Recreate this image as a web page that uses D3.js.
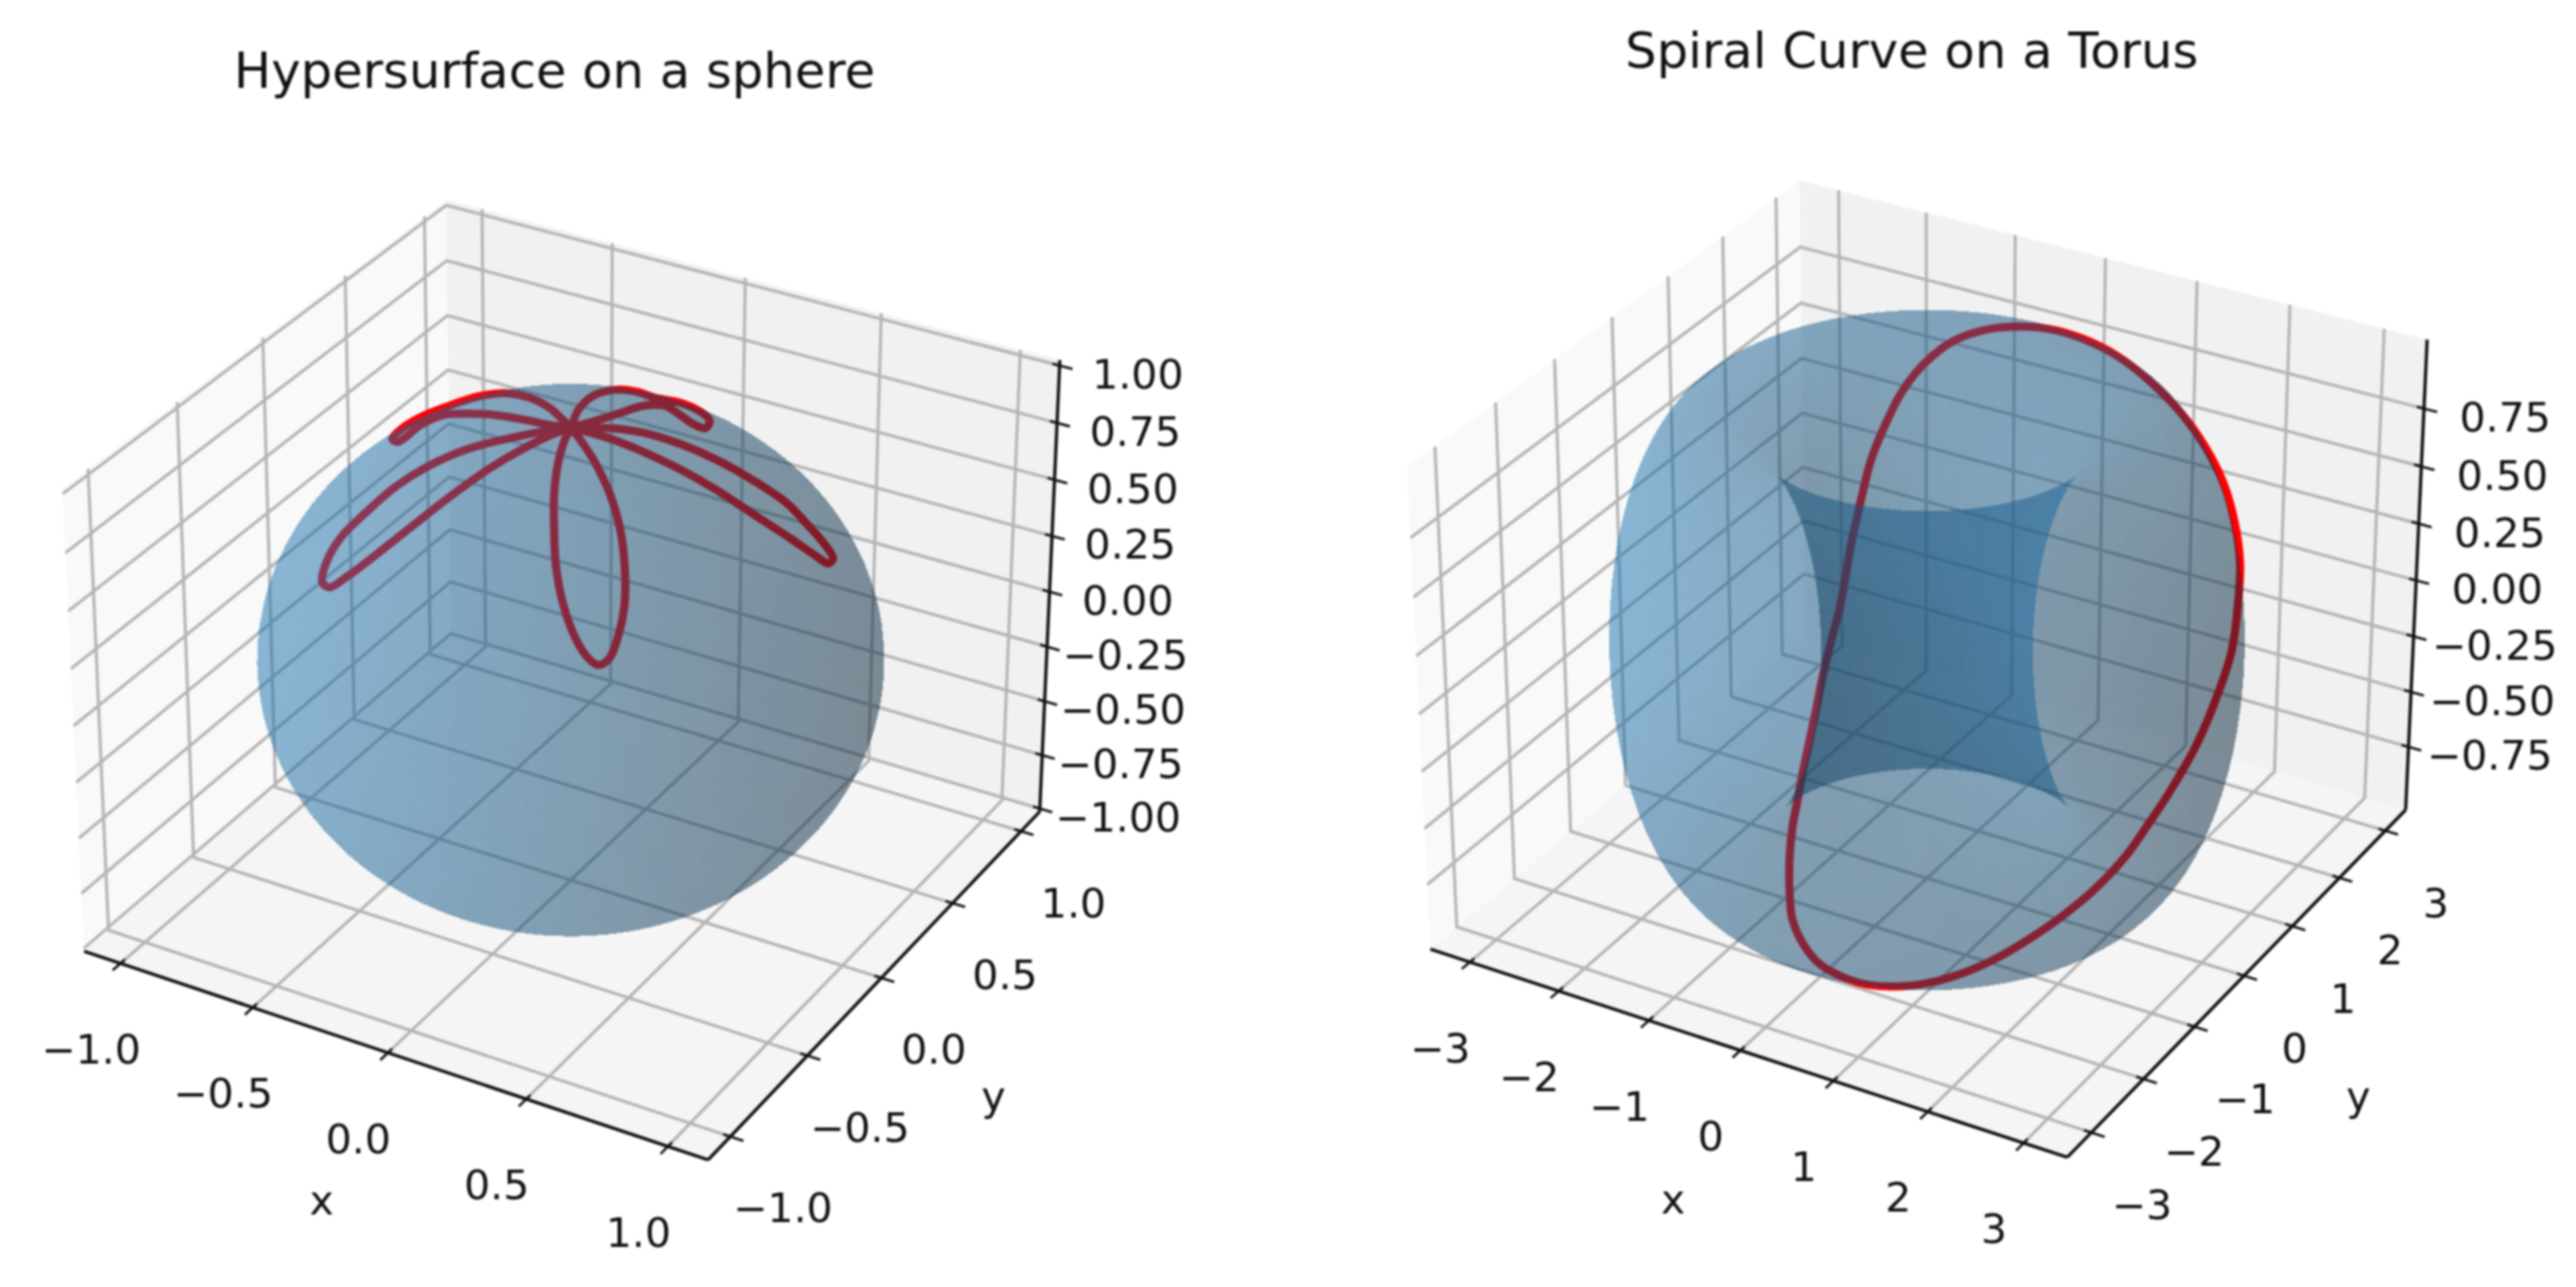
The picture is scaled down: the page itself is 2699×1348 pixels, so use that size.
<!DOCTYPE html>
<html>
<head>
<meta charset="utf-8">
<script src="https://cdn.jsdelivr.net/npm/d3@7"></script>
<style>
body { margin: 0; background: #fff; }
svg { display: block; filter: blur(0.8px); }
text { font-family: "DejaVu Sans"; fill: #111; }
</style>
</head>
<body>
<svg id="chart" width="2699" height="1348"></svg>
<script>
// Curve, in data coordinates
const sphereCurveX = [0.017,0.065,0.126,0.187,0.254,0.326,0.402,0.454,0.484,0.505,0.504,0.482,0.430,0.357,0.275,0.167,0.057,-0.002,-0.071,-0.142,-0.248,-0.382,-0.490,-0.552,-0.644,-0.654,-0.623,-0.571,-0.550,-0.498,-0.389,-0.272,-0.156,-0.062,-0.002,0.122,0.248,0.371,0.492,0.607,0.709,0.772,0.798,0.791,0.755,0.699,0.624,0.526,0.412,0.301,0.191,0.091,-0.002,-0.047,-0.142,-0.252,-0.345,-0.415,-0.470,-0.521,-0.533,-0.513,-0.471,-0.412,-0.335,-0.256,-0.190,-0.126,-0.076,-0.033,-0.002,0.033,0.066,0.082,0.116,0.189,0.254,0.282,0.242,0.167,0.092,0.044,-0.038,-0.080,-0.079,-0.046,-0.002];
const sphereCurveY = [-0.065,-0.193,-0.321,-0.426,-0.530,-0.610,-0.663,-0.677,-0.672,-0.642,-0.585,-0.507,-0.415,-0.316,-0.229,-0.131,-0.042,0.004,0.054,0.107,0.174,0.241,0.263,0.207,0.177,0.058,-0.055,-0.104,0.001,0.050,0.027,0.010,-0.005,-0.008,0.004,0.016,0.024,0.037,0.055,0.082,0.134,0.188,0.226,0.273,0.283,0.275,0.269,0.232,0.199,0.164,0.125,0.070,0.004,-0.033,-0.119,-0.202,-0.292,-0.375,-0.463,-0.533,-0.602,-0.657,-0.682,-0.667,-0.617,-0.529,-0.418,-0.280,-0.165,-0.058,0.004,0.079,0.184,0.319,0.401,0.366,0.343,0.365,0.462,0.526,0.540,0.459,0.485,0.417,0.275,0.125,0.004];
const sphereCurveZ = [0.997,0.978,0.937,0.885,0.809,0.720,0.631,0.578,0.559,0.574,0.633,0.712,0.801,0.878,0.934,0.976,0.997,0.999,0.996,0.984,0.952,0.892,0.831,0.808,0.746,0.754,0.781,0.814,0.835,0.866,0.921,0.962,0.987,0.997,0.999,0.992,0.968,0.927,0.868,0.789,0.691,0.605,0.557,0.547,0.591,0.659,0.734,0.818,0.888,0.939,0.973,0.992,0.999,0.998,0.982,0.946,0.892,0.828,0.751,0.666,0.593,0.551,0.559,0.619,0.711,0.808,0.887,0.951,0.983,0.997,0.999,0.995,0.981,0.944,0.908,0.911,0.904,0.887,0.853,0.834,0.836,0.887,0.873,0.905,0.958,0.991,0.999];

const torusCurveX = [-0.085,0.173,0.513,0.932,1.398,1.832,2.071,2.248,2.416,2.513,2.780,2.920,2.994,2.988,2.925,2.850,2.726,2.542,2.341,2.119,1.866,1.599,1.315,1.002,0.699,0.483,0.325,0.234,0.187,0.214,0.252,0.303,0.360,0.406,0.462,0.508,0.544,0.578,0.595,0.528,-0.996,-0.988,-0.958,-0.894,-0.787,-0.621,-0.373];
const torusCurveY = [1.978,2.075,2.076,1.949,1.708,1.527,1.605,1.672,1.600,1.531,0.983,0.595,0.125,-0.228,-0.600,-0.824,-1.066,-1.344,-1.575,-1.769,-1.927,-2.045,-2.136,-2.197,-2.260,-2.417,-2.548,-2.684,-2.805,-2.892,-2.948,-2.974,-2.978,-2.965,-2.935,-2.888,-2.808,-2.710,-2.585,-2.265,0.475,0.642,0.826,1.078,1.326,1.584,1.808];
const torusCurveZ = [0.999,0.996,0.990,0.987,0.978,0.923,0.784,0.628,0.484,0.344,0.317,0.193,0.075,-0.042,-0.165,-0.251,-0.368,-0.480,-0.568,-0.649,-0.731,-0.802,-0.861,-0.909,-0.930,-0.885,-0.821,-0.717,-0.583,-0.435,-0.282,-0.134,-0.016,0.096,0.230,0.358,0.506,0.637,0.752,0.946,0.434,0.569,0.674,0.799,0.888,0.953,0.988];

// Ticks
const sphereXYTicks = [-1, -0.5, 0, 0.5, 1];
const sphereXYLabels = ["−1.0", "−0.5", "0.0", "0.5", "1.0"];
const sphereZTicks = [-1, -0.75, -0.5, -0.25, 0, 0.25, 0.5, 0.75, 1];
const sphereZLabels = ["−1.00", "−0.75", "−0.50", "−0.25", "0.00", "0.25", "0.50", "0.75", "1.00"];
const torusXYTicks = [-3, -2, -1, 0, 1, 2, 3];
const torusXYLabels = ["−3", "−2", "−1", "0", "1", "2", "3"];
const torusZTicks = [-0.75, -0.5, -0.25, 0, 0.25, 0.5, 0.75];
const torusZLabels = ["−0.75", "−0.50", "−0.25", "0.00", "0.25", "0.50", "0.75"];

// Surface sizes
const sphereRadius = 1;
const torusMajor = 2, torusMinor = 1;

// View, same as a default 3d axes: elevation 30, azimuth -60, distance 10
const deg = Math.PI / 180;
const elev = 30 * deg, azim = -60 * deg, dist = 10;
const nV = [Math.cos(elev) * Math.cos(azim), Math.cos(elev) * Math.sin(azim), Math.sin(elev)];
const uV = [-Math.sin(azim), Math.cos(azim), 0];
const vV = [nV[1] * uV[2] - nV[2] * uV[1], nV[2] * uV[0] - nV[0] * uV[2], nV[0] * uV[1] - nV[1] * uV[0]];
const dot = (a, b) => a[0] * b[0] + a[1] * b[1] + a[2] * b[2];
const light = [-2 / 3, -2 / 3, 1 / 3];

const svg = d3.select("#chart");

function panel(cfg) {
    const g = svg.append("g");

    // data -> box -> screen
    const bx = d3.scaleLinear(cfg.xDomain, [-0.595, 0.595]);
    const by = d3.scaleLinear(cfg.yDomain, [-0.595, 0.595]);
    const bz = d3.scaleLinear(cfg.zDomain, [-cfg.bz / 2, cfg.bz / 2]);
    const sx = d3.scaleLinear([0, 1], [cfg.cx, cfg.cx + cfg.sx]);
    const sy = d3.scaleLinear([0, 1], [cfg.cy, cfg.cy - cfg.sy]);
    const proj = ([x, y, z]) => {
        const p = [bx(x), by(y), bz(z)];
        const w = dist - dot(p, nV);
        return [sx(dot(p, uV) / w), sy(dot(p, vV) / w)];
    };
    const depth = ([x, y, z]) => dot([bx(x), by(y), bz(z)], nV);
    const [x0, x1] = cfg.xDomain, [y0, y1] = cfg.yDomain, [z0, z1] = cfg.zDomain;
    const line3 = pts => d3.line()(pts.map(proj));

    // panes
    [[[[x0,y0,z0],[x0,y1,z0],[x0,y1,z1],[x0,y0,z1]], "#f9f9f9"],
     [[[x0,y1,z0],[x1,y1,z0],[x1,y1,z1],[x0,y1,z1]], "#f1f1f1"],
     [[[x0,y0,z0],[x1,y0,z0],[x1,y1,z0],[x0,y1,z0]], "#f5f5f5"]].forEach(([pts, c]) => {
        g.append("path").attr("d", line3(pts) + "Z").attr("fill", c);
    });

    // grid
    const grid = g.append("g").attr("fill", "none").attr("stroke", "#b4b4b4").attr("stroke-width", 3.2);
    cfg.xTicks.forEach(t => grid.append("path").attr("d", line3([[t,y0,z0],[t,y1,z0],[t,y1,z1]])));
    cfg.yTicks.forEach(t => grid.append("path").attr("d", line3([[x1,t,z0],[x0,t,z0],[x0,t,z1]])));
    cfg.zTicks.forEach(t => grid.append("path").attr("d", line3([[x0,y0,t],[x0,y1,t],[x1,y1,t]])));

    // the curve goes under the surface, the see-through mesh tints it
    g.append("path")
        .attr("d", d3.line().curve(d3.curveCatmullRomClosed)(cfg.curve.map(proj)))
        .attr("fill", "none").attr("stroke", "#ff0000").attr("stroke-width", 8.5).attr("stroke-linejoin", "round");

    // surface quads, far ones first
    const verts = cfg.mesh();
    const quads = [];
    verts.forEach((row, i) => {
        if (i === verts.length - 1) return;
        row.forEach((a, j) => {
            if (j === row.length - 1) return;
            const b = row[j + 1], c = verts[i + 1][j + 1], d = verts[i + 1][j];
            const e1 = [c[0] - a[0], c[1] - a[1], c[2] - a[2]];
            const e2 = [d[0] - b[0], d[1] - b[1], d[2] - b[2]];
            let nrm = [e1[1] * e2[2] - e1[2] * e2[1], e1[2] * e2[0] - e1[0] * e2[2], e1[0] * e2[1] - e1[1] * e2[0]];
            const len = Math.hypot(...nrm) || 1;
            nrm = nrm.map(v => v / len);
            const mid = [0, 1, 2].map(k => (a[k] + b[k] + c[k] + d[k]) / 4);
            if (dot(nrm, cfg.outward(mid)) < 0) nrm = nrm.map(v => -v);
            const shade = 0.3 + 0.7 * (dot(nrm, light) + 1) / 2;
            quads.push({pts: [a, b, c, d], depth: depth(mid), shade});
        });
    });
    quads.sort((p, q) => p.depth - q.depth);
    g.append("g").attr("shape-rendering", "crispEdges")
        .selectAll("path").data(quads).join("path")
        .attr("d", q => line3(q.pts) + "Z")
        .attr("fill", q => d3.rgb(31 * q.shade, 119 * q.shade, 180 * q.shade))
        .attr("fill-opacity", cfg.alpha);

    // axis lines and ticks
    const ax = g.append("g").attr("fill", "none").attr("stroke", "#111").attr("stroke-width", 3.4);
    ax.append("path").attr("d", line3([[x0,y0,z0],[x1,y0,z0]]));
    ax.append("path").attr("d", line3([[x1,y0,z0],[x1,y1,z0]]));
    ax.append("path").attr("d", line3([[x1,y1,z0],[x1,y1,z1]]));
    const dxs = x1 - x0, dys = y1 - y0;
    const label = (pos, off, txt) => g.append("text")
        .attr("x", pos[0] + off[0]).attr("y", pos[1] + off[1])
        .attr("text-anchor", "middle").attr("dominant-baseline", "central")
        .attr("font-size", 43).text(txt);
    cfg.xTicks.forEach((t, i) => {
        ax.append("path").attr("stroke-width", 2.6).attr("d", line3([[t, y0 + dys * 0.011, z0], [t, y0 - dys * 0.02, z0]]));
        label(proj([t, y0, z0]), cfg.xOff, cfg.xLabels[i]);
    });
    cfg.yTicks.forEach((t, i) => {
        ax.append("path").attr("stroke-width", 2.6).attr("d", line3([[x1 - dxs * 0.011, t, z0], [x1 + dxs * 0.02, t, z0]]));
        label(proj([x1, t, z0]), cfg.yOff, cfg.yLabels[i]);
    });
    cfg.zTicks.forEach((t, i) => {
        ax.append("path").attr("stroke-width", 2.6).attr("d", line3([[x1 - dxs * 0.011, y1, t], [x1 + dxs * 0.02, y1, t]]));
        label(proj([x1, y1, t]), cfg.zOff, cfg.zLabels[i]);
    });
    label(cfg.xLabelPos, [0, 0], "x");
    label(cfg.yLabelPos, [0, 0], "y");
    label(cfg.titlePos, [0, 0], cfg.title).attr("font-size", 52);
}

const sphereLon = d3.range(0, 101).map(i => i / 100 * 2 * Math.PI);
const sphereLat = d3.range(0, 51).map(i => i / 50 * Math.PI);
const ringU = d3.range(0, 141).map(i => i / 140 * 2 * Math.PI);
const ringV = d3.range(0, 71).map(i => i / 70 * 2 * Math.PI);

panel({
    title: "Hypersurface on a sphere", titlePos: [581, 74],
    xDomain: [-1.14, 1.14], yDomain: [-1.14, 1.14], zDomain: [-1.014, 1.024],
    cx: 598, sx: 6289, cy: 687.5, sy: 6450, bz: 0.857, alpha: 0.3,
    xTicks: sphereXYTicks, xLabels: sphereXYLabels,
    yTicks: sphereXYTicks, yLabels: sphereXYLabels,
    zTicks: sphereZTicks, zLabels: sphereZLabels,
    xOff: [-31, 90], yOff: [55, 75], zOff: [82, 9],
    xLabelPos: [337, 1257], yLabelPos: [1041, 1148],
    curve: sphereCurveX.map((x, i) => [x, sphereCurveY[i], sphereCurveZ[i]]),
    outward: m => m,
    mesh: () => sphereLon.map(u => sphereLat.map(v => [
        sphereRadius * Math.cos(u) * Math.sin(v),
        sphereRadius * Math.sin(u) * Math.sin(v),
        sphereRadius * Math.cos(v)]))
});

panel({
    title: "Spiral Curve on a Torus", titlePos: [2003, 53],
    xDomain: [-3.45, 3.45], yDomain: [-3.45, 3.45], zDomain: [-1.04, 1.045],
    cx: 2019, sx: 6425, cy: 676, sy: 6425, bz: 0.896, alpha: 0.3,
    xTicks: torusXYTicks, xLabels: torusXYLabels,
    yTicks: torusXYTicks, yLabels: torusXYLabels,
    zTicks: torusZTicks, zLabels: torusZLabels,
    xOff: [-31, 90], yOff: [53, 76], zOff: [85, 9],
    xLabelPos: [1753, 1256], yLabelPos: [2471, 1148],
    curve: torusCurveX.map((x, i) => [x, torusCurveY[i], torusCurveZ[i]]),
    outward: ([x, y, z]) => { const h = Math.hypot(x, y) || 1; return [x - torusMajor * x / h, y - torusMajor * y / h, z]; },
    mesh: () => ringU.map(u => ringV.map(v => [
        (torusMajor + torusMinor * Math.cos(v)) * Math.cos(u),
        (torusMajor + torusMinor * Math.cos(v)) * Math.sin(u),
        torusMinor * Math.sin(v)]))
});
</script>
</body>
</html>
